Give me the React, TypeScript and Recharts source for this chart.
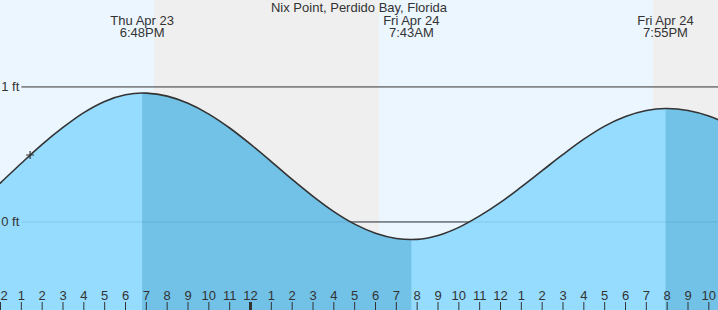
import React from 'react';
import { ComposedChart, Area, Line, XAxis, YAxis, ReferenceArea, ReferenceLine, ReferenceDot } from 'recharts';

// hours since 12 PM Thu Apr 23
const hours = [-1, 0, 1, 2, 3, 4, 5, 6, 6.8, 7, 8, 9, 10, 11, 12, 13, 14, 15, 16, 17, 18, 19, 19.72, 20, 21, 22, 23, 24, 25, 26, 27, 28, 29, 30, 31, 31.92, 32, 33, 34, 35];
const tideFt = [0.15, 0.29, 0.435, 0.575, 0.7, 0.81, 0.893, 0.942, 0.955, 0.954, 0.932, 0.879, 0.799, 0.696, 0.576, 0.447, 0.315, 0.19, 0.077, -0.016, -0.083, -0.122, -0.13, -0.129, -0.1, -0.04, 0.045, 0.145, 0.26, 0.38, 0.5, 0.613, 0.71, 0.781, 0.826, 0.84, 0.84, 0.825, 0.784, 0.72];

// high / low tide events
const eventHours = [6.8, 19.72, 31.92];
const eventDays = ['Thu Apr 23', 'Fri Apr 24', 'Fri Apr 24'];
const eventTimes = ['6:48PM', '7:43AM', '7:55PM'];
const fallingFrom = [6.8, 31.92];
const fallingTo = [19.72, 99];

// sunset -> sunrise
const nightStart = [7.37, 31.32];
const nightEnd = [18.17, 35];

const nowHour = [1.42];
const nowFt = [0.496];

const levelFt = [0, 1];
const levelLabels = ['0 ft', '1 ft'];

const tickHours = [0, 1, 2, 3, 4, 5, 6, 7, 8, 9, 10, 11, 12, 13, 14, 15, 16, 17, 18, 19, 20, 21, 22, 23, 24, 25, 26, 27, 28, 29, 30, 31, 32, 33, 34];
const tickLabels = ['12', '1', '2', '3', '4', '5', '6', '7', '8', '9', '10', '11', '12', '1', '2', '3', '4', '5', '6', '7', '8', '9', '10', '11', '12', '1', '2', '3', '4', '5', '6', '7', '8', '9', '10'];

const rows = hours.map((h, i) => {
  const falling = fallingFrom.some((f, k) => h >= f && h <= fallingTo[k]);
  return { h, tide: tideFt[i], falling: falling ? tideFt[i] : null };
});

const DAY = '#ecf6fe';
const NIGHT = '#efefef';
const RISE = '#96dcfe';
const FALL = '#72c1e6';
const INK = '#333333';
const FONT = '"Liberation Sans", Arial, sans-serif';
const FS = 13;
const X0 = -0.024;
const X1 = 34.44;

const HourTick = (props: any) => {
  const { x, payload } = props;
  const i = tickHours.indexOf(payload.value);
  const midnight = payload.value === 12;
  return (
    <g>
      <line x1={x} x2={x} y1={302} y2={310} stroke={INK} strokeWidth={midnight ? 3 : 1} />
      <text x={x} y={300} textAnchor="middle" fontSize={FS} fill={INK} fontFamily={FONT}>
        {tickLabels[i]}
      </text>
    </g>
  );
};

const EventLabel = (props: any) => {
  const { viewBox, day, time } = props;
  return (
    <g>
      <text x={viewBox.x} y={25} textAnchor="middle" fontSize={FS} fill={INK} fontFamily={FONT}>{day}</text>
      <text x={viewBox.x} y={37} textAnchor="middle" fontSize={FS} fill={INK} fontFamily={FONT}>{time}</text>
    </g>
  );
};

const LevelLabel = (props: any) => {
  const { viewBox, text } = props;
  return (
    <text x={viewBox.x - 2} y={viewBox.y + 4} textAnchor="end" fontSize={FS} fill={INK} fontFamily={FONT}>{text}</text>
  );
};

const Plus = (props: any) => {
  const { cx, cy } = props;
  return <path d={`M${cx - 4},${cy}h8M${cx},${cy - 4}v8`} stroke={INK} strokeWidth={1.2} fill="none" />;
};

export default function App() {
  return (
    <div style={{ position: 'absolute', left: 0, top: 0, width: 718, height: 310, fontFamily: FONT }}>
      <ComposedChart width={718} height={310} data={rows} margin={{ top: 0, right: 0, bottom: 0, left: 0 }}>
        <XAxis
          dataKey="h"
          type="number"
          domain={[X0, X1]}
          allowDataOverflow
          ticks={tickHours}
          interval={0}
          axisLine={false}
          tickLine={false}
          mirror
          height={30}
          tick={<HourTick />}
        />
        <YAxis hide type="number" domain={[-0.652, 1.644]} allowDataOverflow />

        <ReferenceArea x1={-1} x2={35} fill={DAY} fillOpacity={1} ifOverflow="hidden" zIndex={-300} />
        {nightStart.map((s, i) => (
          <ReferenceArea key={'n' + i} x1={s} x2={nightEnd[i]} fill={NIGHT} fillOpacity={1} ifOverflow="hidden" zIndex={-200} />
        ))}
        <ReferenceLine segment={[{ x: 1, y: levelFt[0] }, { x: X1, y: levelFt[0] }]} stroke={INK} strokeWidth={1} zIndex={50} />

        <Area type="monotone" dataKey="tide" baseValue="dataMin" fill={RISE} fillOpacity={1} stroke="none" isAnimationActive={false} zIndex={100} />
        <Area type="monotone" dataKey="falling" baseValue="dataMin" fill={FALL} fillOpacity={1} stroke="none" connectNulls={false} isAnimationActive={false} zIndex={110} />

        <ReferenceLine segment={[{ x: 1, y: levelFt[0] }, { x: X1, y: levelFt[0] }]} stroke="rgba(0,70,120,0.12)" strokeWidth={1} zIndex={150}
          label={<LevelLabel text={levelLabels[0]} />} />
        <ReferenceLine segment={[{ x: 1, y: levelFt[1] }, { x: X1, y: levelFt[1] }]} stroke={INK} strokeWidth={1} zIndex={150}
          label={<LevelLabel text={levelLabels[1]} />} />

        <Line type="monotone" dataKey="tide" stroke={INK} strokeWidth={1.6} dot={false} activeDot={false} isAnimationActive={false} zIndex={400} />
        <ReferenceDot x={nowHour[0]} y={nowFt[0]} shape={<Plus />} zIndex={500} />

        {eventHours.map((h, i) => (
          <ReferenceLine key={'e' + i} x={h} stroke="none" zIndex={600}
            label={<EventLabel day={eventDays[i]} time={eventTimes[i]} />} />
        ))}
      </ComposedChart>
      <div style={{ position: 'absolute', left: 0, top: 0, width: 718, textAlign: 'center', fontSize: FS, lineHeight: '15px', color: INK }}>
        Nix Point, Perdido Bay, Florida
      </div>
    </div>
  );
}
